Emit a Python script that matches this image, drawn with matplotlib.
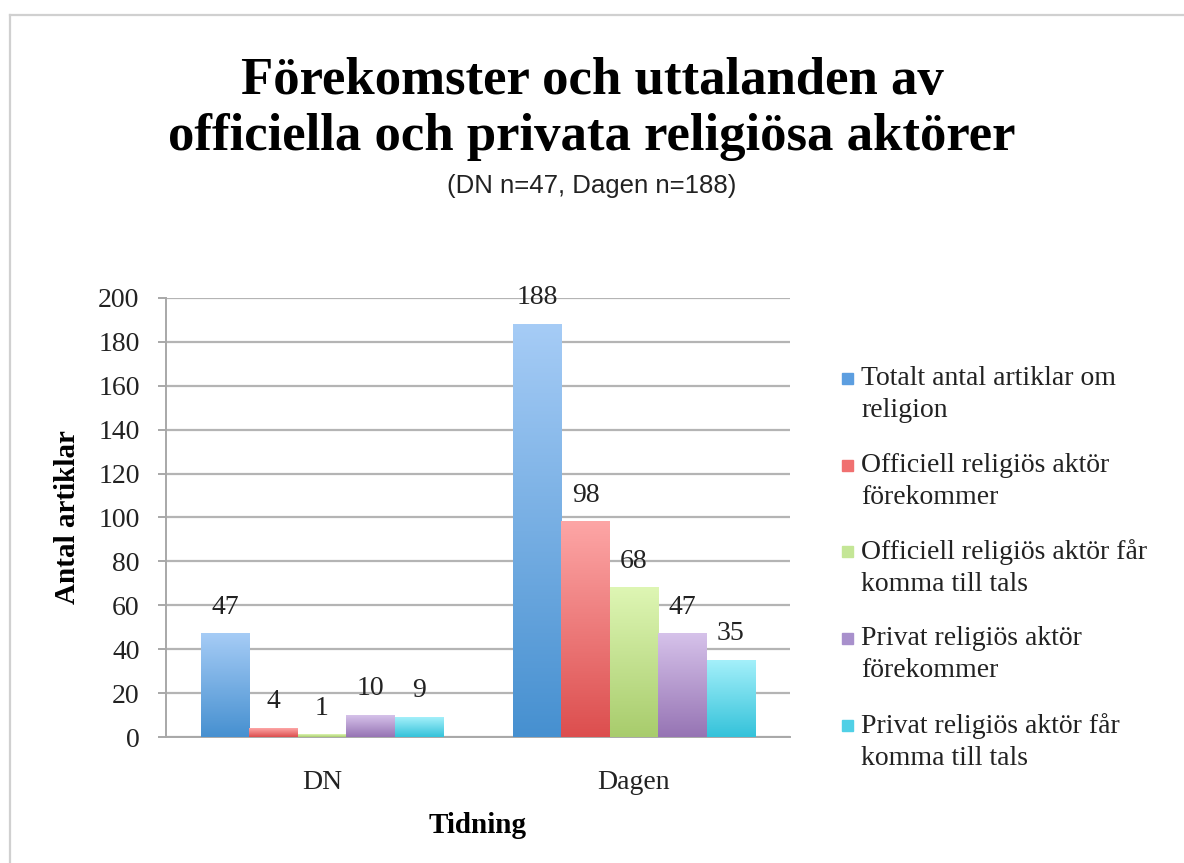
import matplotlib.pyplot as plt
import numpy as np
from matplotlib.colors import LinearSegmentedColormap
from matplotlib.lines import Line2D
from matplotlib.patches import Rectangle

# ----- DATA
tidningar = ['DN', 'Dagen']
serier = ['Totalt antal artiklar om\nreligion',
          'Officiell religiös aktör\nförekommer',
          'Officiell religiös aktör får\nkomma till tals',
          'Privat religiös aktör\nförekommer',
          'Privat religiös aktör får\nkomma till tals']
totalt = [47, 188]
off_forekommer = [4, 98]
off_tals = [1, 68]
priv_forekommer = [10, 47]
priv_tals = [9, 35]
y_ticks = [0, 20, 40, 60, 80, 100, 120, 140, 160, 180, 200]

values = [totalt, off_forekommer, off_tals, priv_forekommer, priv_tals]

# gradient colours (top, bottom) and legend colour
top_col = ['#a6ccf6', '#fda6a6', '#def6b4', '#d6c2ea', '#a4f0fa']
bot_col = ['#4690d0', '#dc4e4e', '#a8cc6c', '#9674b4', '#34c2da']
leg_col = ['#5c9ee0', '#f07070', '#c4e696', '#a890cc', '#50d0e6']

serif = 'Liberation Serif'
txt = '#222222'

fig = plt.figure(figsize=(11.84, 8.63), dpi=100)
ax = fig.add_axes([166/1184, 1-737/863, (790-166)/1184, (737-298)/863])

x = np.arange(len(tidningar))
w = 0.155
grad = np.linspace(0, 1, 256).reshape(-1, 1)

for k, vals in enumerate(values):
    pos = x + (k - 2) * w
    bars = ax.bar(pos, vals, w, color='none', edgecolor='none', zorder=3)
    cmap = LinearSegmentedColormap.from_list('g%d' % k, [bot_col[k], top_col[k]])
    for b, v in zip(bars, vals):
        x0 = b.get_x()
        ax.imshow(grad, cmap=cmap, origin='lower', aspect='auto',
                  extent=(x0, x0 + b.get_width(), 0, b.get_height()), zorder=3)
        ax.annotate(str(v), (x0 + b.get_width()/2, v), xytext=(0, 10),
                    textcoords='offset points', ha='center', va='bottom',
                    fontsize=20, family=serif, color=txt, zorder=4)

ax.set_xlim(-0.5, 1.5)
ax.set_ylim(0, 200)
ax.set_yticks(y_ticks)
ax.set_xticks(x)
ax.set_xticklabels(tidningar)
ax.grid(axis='y', color='#b4b4b4', lw=1.6, zorder=0)
ax.set_axisbelow(True)
for s in ['top', 'right']:
    ax.spines[s].set_visible(False)
ax.spines['left'].set_color('#a8a8a8')
ax.spines['bottom'].set_color('#a8a8a8')
ax.spines['left'].set_linewidth(1.4)
ax.spines['bottom'].set_linewidth(1.4)
ax.tick_params(axis='y', length=6, width=1.4, color='#a8a8a8', pad=13,
               labelsize=20)
ax.tick_params(axis='x', length=0, pad=24, labelsize=20)
for lab in ax.get_xticklabels() + ax.get_yticklabels():
    lab.set_family(serif)
    lab.set_color(txt)

ax.set_ylabel('Antal artiklar', fontsize=21, fontweight='bold', family=serif,
              labelpad=12)
ax.set_xlabel('Tidning', fontsize=21, fontweight='bold', family=serif,
              labelpad=12)

# title
fig.text(0.5, 1-94/863, 'Förekomster och uttalanden av', ha='center', va='baseline',
         fontsize=38, fontweight='bold', family=serif)
fig.text(0.5, 1-150/863, 'officiella och privata religiösa aktörer', ha='center',
         va='baseline', fontsize=38, fontweight='bold', family=serif)
fig.text(0.5, 1-193/863, '(DN n=47, Dagen n=188)', ha='center', va='baseline',
         fontsize=18.5, family='Liberation Sans', color=txt)

# legend
leg_y = [382, 469, 555, 642, 729]
for k in range(len(serier)):
    fig.patches.append(Rectangle((842/1184, 1-(leg_y[k]+2)/863), 11/1184, 11/863,
                                 transform=fig.transFigure, color=leg_col[k]))
    fig.text(861/1184, 1-(leg_y[k]-16)/863, serier[k], ha='left', va='top',
             fontsize=20, family=serif, color=txt, linespacing=1.36)

# frame
fig.add_artist(Line2D([10/1184, 10/1184], [0, 1-15/863], transform=fig.transFigure,
                      color='#d0d0d0', lw=1.6))
fig.add_artist(Line2D([10/1184, 1], [1-15/863, 1-15/863], transform=fig.transFigure,
                      color='#d0d0d0', lw=1.6))

plt.savefig('out.png', dpi=100)
